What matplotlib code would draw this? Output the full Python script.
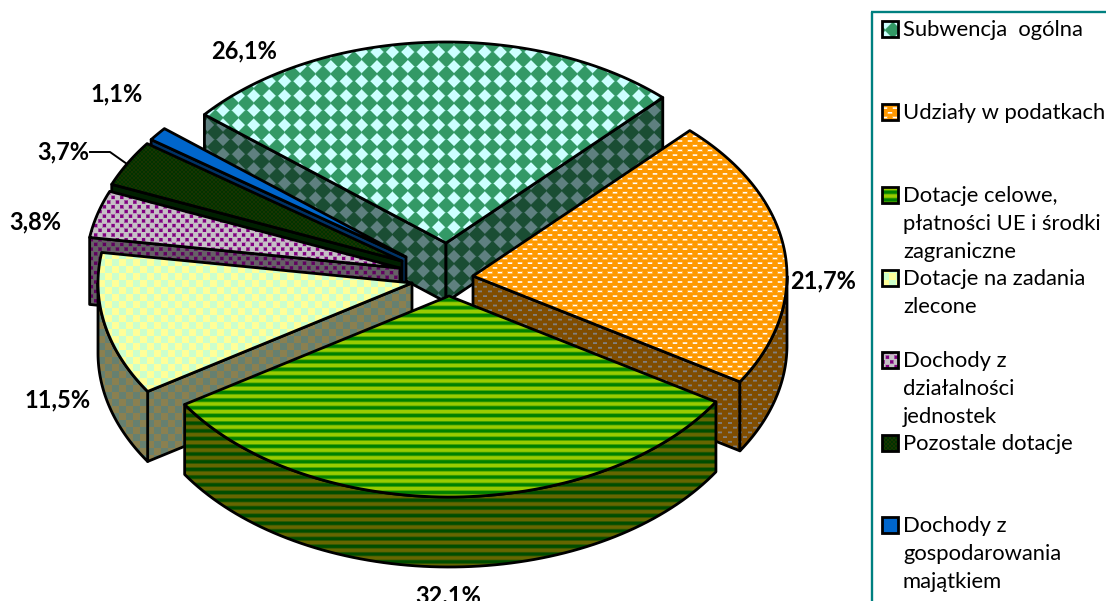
import numpy as np
import matplotlib
matplotlib.use('Agg')
import matplotlib.pyplot as plt
from matplotlib.colors import to_rgb
from matplotlib.patches import Polygon, Rectangle

plt.rcParams['font.family'] = ['Lato', 'DejaVu Sans']

# data
categories = ['Subwencja  ogólna', 'Udziały w podatkach',
              'Dotacje celowe,\npłatności UE i środki\nzagraniczne',
              'Dotacje na zadania\nzlecone',
              'Dochody z\ndziałalności\njednostek',
              'Pozostale dotacje',
              'Dochody z\ngospodarowania\nmajątkiem']
shares = [26.1, 21.7, 32.1, 11.5, 3.8, 3.7, 1.1]
share_labels = ['26,1%', '21,7%', '32,1%', '11,5%', '3,8%', '3,7%', '1,1%']

# layout, in pixels
W, H = 1106, 601
RX, RY = 314, 201
FIRST_ANGLE = 140.3
apex = [(446, 243), (473, 276), (449, 296), (412, 283), (400, 268), (402, 261), (406, 257)]
depth = [59, 69, 70, 70, 67, 62, 60]
label_pos = [(244, 51), (823, 281), (448, 596), (58, 400), (35, 222), (63, 152), (117, 94)]
legend_y = [29, 112, 195, 278, 360, 443, 525]
draw_order = [0, 6, 5, 4, 1, 3, 2]

yy, xx = np.mgrid[0:H, 0:W] + 0.5


def blend(mask, fg, bg):
    mask = np.clip(mask, 0, 1)[..., None]
    return mask * np.array(to_rgb(fg)) + (1 - mask) * np.array(to_rgb(bg))


def diamonds(fg, bg, px=15.4, py=14.6):
    u = (xx - 377) / px
    v = (yy - 52) / py
    dx = np.abs(u - np.round(u)) * px
    dy = np.abs(v - np.round(v)) * py
    return blend((6.6 - dx - dy) / 1.6 + 0.5, fg, bg)


def dashes(fg, bg, px, py, hw, hh):
    row = np.round(yy / py)
    dy = np.abs(yy - row * py)
    xs = xx / px + 0.5 * (row % 2)
    dx = np.abs(xs - np.round(xs)) * px
    m = np.minimum(hw - dx + 0.5, hh - dy + 0.5)
    return blend(m, fg, bg)


def stripes(fg, bg, period):
    return blend(0.45 + 0.75 * np.cos(2 * np.pi * (yy - 300) / period), fg, bg)


def checker(c1, c2, size):
    return blend(((xx // size + yy // size) % 2 == 0).astype(float), c1, c2)


def solid(c):
    return blend(np.ones_like(xx), c, c)


tops = [diamonds('#CCFFFF', '#339966'),
        dashes('#FFFFFF', '#FF9900', 10, 4.7, 2.2, 0.8),
        stripes('#008000', '#99CC00', 7.7),
        checker('#FFFF99', '#CCFFCC', 7),
        dashes('#800080', '#C6C0C6', 8.7, 4.7, 1.7, 1.7),
        dashes('#333300', '#003300', 4, 2, 0.7, 0.5),
        solid('#0066CC')]
walls = [diamonds('#5F8080', '#1A4D33'),
         dashes('#808080', '#804D00', 10, 4.7, 2.0, 0.9),
         stripes('#004D00', '#666600', 7.7),
         checker('#8A8050', '#668070', 7),
         dashes('#600060', '#666066', 8.7, 4.7, 1.7, 1.7),
         solid('#001F00'),
         solid('#003366')]

fig = plt.figure(figsize=(W / 100, H / 100), dpi=100)
ax = fig.add_axes([0, 0, 1, 1])
ax.axis('off')


def rim(i, t0, t1, n=80):
    t = np.radians(np.linspace(t0, t1, n))
    return np.column_stack([apex[i][0] + RX * np.cos(t), apex[i][1] - RY * np.sin(t)])


def fill(points, tex, z):
    poly = Polygon(points, closed=True, fc='none', ec='black', lw=2.0, joinstyle='round', zorder=z + 0.5)
    ax.add_patch(poly)
    im = ax.imshow(tex, extent=(0, W, H, 0), aspect='auto', interpolation='nearest', zorder=z)
    im.set_clip_path(poly)


# angles run clockwise from the first slice
edges = FIRST_ANGLE - np.cumsum([0] + shares) * 3.6
z = 1
for i in draw_order:
    hi, lo = edges[i], edges[i + 1]
    drop = np.array([0, depth[i]])
    top_pts = np.vstack([[apex[i]], rim(i, hi, lo)])
    # radial faces
    for ang, normal in ((hi, hi + 90), (lo, lo - 90)):
        if np.sin(np.radians(normal)) < 0:
            edge = np.vstack([[apex[i]], rim(i, ang, ang, 1)])
            fill(np.vstack([edge, edge[::-1] + drop]), walls[i], z)
            z += 1
    # outer wall, front half of the rim only
    for k in range(-2, 2):
        a0, a1 = max(lo, 180 + 360 * k), min(hi, 360 + 360 * k)
        if a1 > a0:
            arc = rim(i, a0, a1)
            fill(np.vstack([arc, arc[::-1] + drop]), walls[i], z)
            z += 1
    fill(top_pts, tops[i], z)
    z += 1

for i, lab in enumerate(share_labels):
    ax.text(label_pos[i][0], label_pos[i][1], lab, ha='center', va='center',
            fontsize=17, fontweight='bold', color='black', zorder=200)
ax.plot([90, 110, 127], [152, 152, 164], color='black', lw=1.4, zorder=199)

# legend frame
ax.plot([872, 872], [H, 12], color='#008080', lw=1.7, zorder=199, solid_capstyle='butt')
ax.plot([871, W], [12, 12], color='#008080', lw=1.7, zorder=199, solid_capstyle='butt')

for i, name in enumerate(categories):
    y = legend_y[i]
    sw = Rectangle((882, y - 8), 16, 16, fc='none', ec='black', lw=2.0, zorder=201)
    ax.add_patch(sw)
    im = ax.imshow(tops[i], extent=(0, W, H, 0), aspect='auto', interpolation='nearest', zorder=200)
    im.set_clip_path(sw)
    for j, line in enumerate(name.split('\n')):
        ax.text(903, y + 7 + j * 28, line, ha='left', va='baseline', fontsize=15.8, color='black', zorder=200)

ax.set_xlim(0, W)
ax.set_ylim(H, 0)
fig.savefig('out.png', dpi=100)
